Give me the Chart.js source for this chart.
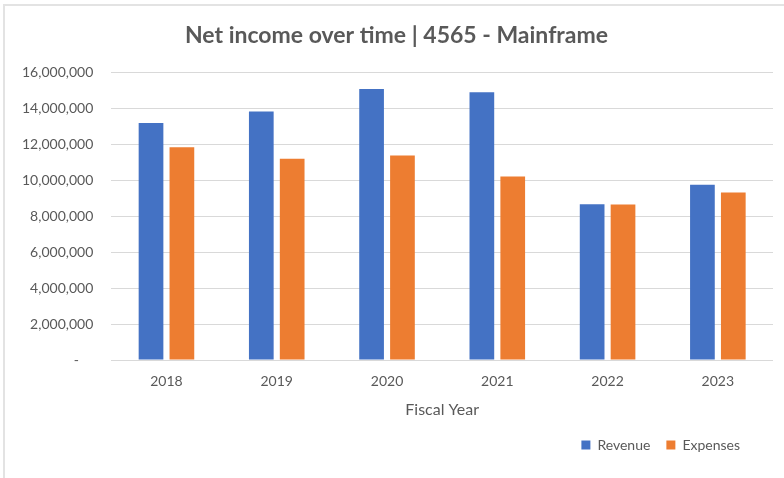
<!DOCTYPE html>
<html>
<head>
<meta charset="utf-8">
<script src="https://cdn.jsdelivr.net/npm/chart.js@4.4.1/dist/chart.umd.min.js"></script>
<style>
  html, body { margin: 0; padding: 0; background: #fff; }
  #wrap { position: relative; width: 784px; height: 478px; }
  #frame {
    position: absolute; left: 3px; top: 4px; right: 0; bottom: 0;
    border-top: 2px solid #e3e3e3; border-left: 2px solid #e3e3e3;
    pointer-events: none;
  }
</style>
</head>
<body>
<div id="wrap">
  <canvas id="incomeChart" width="784" height="478"></canvas>
  <div id="frame"></div>
</div>
<script>
// Fiscal years and values
const years = ['2018', '2019', '2020', '2021', '2022', '2023'];
const revenue = [13200000, 13830000, 15090000, 14900000, 8670000, 9760000];
const expenses = [11850000, 11200000, 11390000, 10220000, 8650000, 9320000];
const yTicks = [0, 2000000, 4000000, 6000000, 8000000, 10000000, 12000000, 14000000, 16000000];

const grey = '#595959';
const fontFamily = 'Lato, "Liberation Sans", sans-serif';

// Nudge legend and title, like the Excel original
const blockShift = {
    id: 'blockShift',
    afterLayout(chart) {
        const lg = chart.legend;
        lg.left = 540;
        lg.right = 756;
        const tb = chart.titleBlock;
        tb.left += 8;
        tb.right += 8;
    }
};

const ctx = document.getElementById('incomeChart').getContext('2d');
const incomeChart = new Chart(ctx, {
    type: 'bar',
    data: {
        labels: years,
        datasets: [
            {
                label: 'Revenue',
                data: revenue,
                backgroundColor: '#4472C4',
                barPercentage: 0.8,
                categoryPercentage: 0.56
            },
            {
                label: 'Expenses',
                data: expenses,
                backgroundColor: '#ED7D31',
                barPercentage: 0.8,
                categoryPercentage: 0.56
            }
        ]
    },
    plugins: [blockShift],
    options: {
        responsive: false,
        animation: false,
        layout: {
            padding: { left: 4, right: 11, top: 8, bottom: 16 }
        },
        plugins: {
            title: {
                display: true,
                text: 'Net income over time | 4565 - Mainframe',
                color: grey,
                font: { family: fontFamily, size: 23, weight: 'bold' },
                padding: { top: 14, bottom: 23 }
            },
            legend: {
                position: 'bottom',
                align: 'end',
                labels: {
                    color: grey,
                    font: { family: fontFamily, size: 14 },
                    boxWidth: 9,
                    boxHeight: 9,
                    padding: 16
                }
            },
            tooltip: { enabled: false }
        },
        scales: {
            x: {
                grid: { display: false, drawTicks: false },
                border: { display: false },
                ticks: {
                    color: grey,
                    font: { family: fontFamily, size: 14 },
                    padding: 13
                },
                title: {
                    display: true,
                    text: 'Fiscal Year',
                    color: grey,
                    font: { family: fontFamily, size: 16 },
                    padding: { top: -3, bottom: 3 }
                }
            },
            y: {
                min: 0,
                max: 16000000,
                afterBuildTicks(scale) {
                    scale.ticks = yTicks.map(v => ({ value: v }));
                },
                grid: { color: '#d9d9d9', drawTicks: false },
                border: { display: false },
                ticks: {
                    color: grey,
                    font: { family: fontFamily, size: 14 },
                    padding: 18,
                    callback: v => v === 0 ? '-    ' : v.toLocaleString('en-US')
                }
            }
        }
    }
});
</script>
</body>
</html>
